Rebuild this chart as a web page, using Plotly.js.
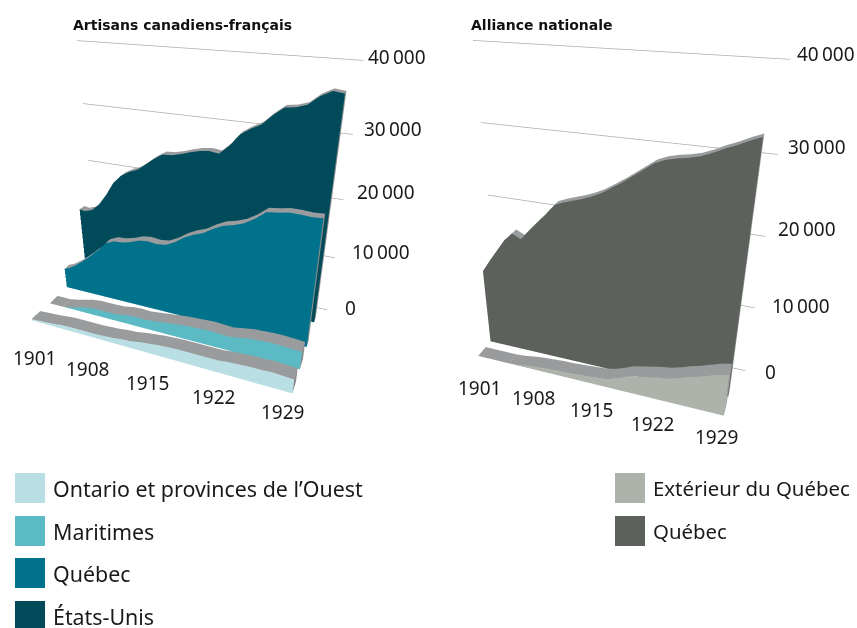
<!DOCTYPE html><html><head><script src="https://cdn.plot.ly/plotly-3.0.1.min.js"></script></head><body style="margin:0"><div id="c" style="width:857px;height:628px"></div><script>
var years=[];for(var yr=1901;yr<=1929;yr++)years.push(yr);
var etatsUnis=[12400,12200,12700,14100,16100,18500,20000,20900,21500,22600,23800,24700,24800,25200,25700,26100,26300,26100,27500,29400,30400,31200,32700,33900,34100,34600,35900,36700,36500];
var quebecA=[3600,4200,5200,6400,7700,9100,10700,11400,11500,11900,12500,12700,12500,12700,13500,14600,15400,16000,17000,17800,18200,18800,19800,21100,21300,21600,21600,21500,21600];
var maritimes=[0,0,0,300,700,1100,1300,1300,1300,1400,1700,1800,1700,1900,2100,2300,2500,2600,2700,2800,2700,2600,2900,3200,3300,3400,3400,3300,3200];
var ontarioOuest=[200,300,400,500,700,800,800,800,800,900,1000,1200,1300,1600,1800,2000,2100,2200,2200,2200,2200,2200,2400,2500,2600,2600,2700,2600,2500];
var quebecB=[11600,13400,15100,16800,18000,17400,18800,20100,21400,22800,23300,23700,24100,24600,25200,26000,26800,27700,28600,29500,30000,30300,30500,30800,31300,31900,32400,33000,33500];
var exterieur=[0,0,0,0,0,100,300,500,600,700,800,800,900,1000,1100,1200,1500,2000,2600,2900,3200,3500,3700,4100,4600,5000,5500,6000,6300];
var gridValues=[0,10000,20000,30000,40000];
var yearLabels=['1901','1908','1915','1922','1929'];
var valueLabels=['0','10\u2009000','20\u2009000','30\u2009000','40\u2009000'];
var W=857,H=628;
var camL={cx:190,cy:220,H:440,Ay:.765,Az:1.882,E:[1.319,-2.914,1.567],C:[.193,-.103],ua:.041,v1:.301,v2:.614,v4:1.252,uT:1.033,uS:.011};
var camR={cx:600,cy:240,H:480,Ay:.205,Az:2.387,E:[1.202,-3.318,1.839],C:[.019,.008],ua:.040,v4:2.670,uT:1.043,uS:-.049};
function scene(c,dom){var A=[2*(c.uT-c.uS),c.Ay*c.v4,c.Az],sx=1-(c.uT+c.uS),sy=c.Ay*.5-c.Ay*c.v4/2;
 var ax={visible:false,showgrid:false,zeroline:false,showbackground:false,showspikes:false};
 return {domain:dom,aspectmode:'manual',aspectratio:{x:A[0],y:A[1],z:A[2]},
 camera:{projection:{type:'perspective'},eye:{x:c.E[0]+sx,y:c.E[1]+sy,z:c.E[2]},center:{x:c.C[0]+sx,y:c.C[1]+sy,z:0},up:{x:c.ua,y:0,z:1}},
 xaxis:Object.assign({range:[1901+28*c.uS,1901+28*c.uT]},ax),yaxis:Object.assign({range:[0,c.v4]},ax),zaxis:Object.assign({range:[0,40000]},ax),bgcolor:'rgba(0,0,0,0)'};}
var t=[];
function mesh(sc,xs,ys,zs,tris,col){t.push({type:'mesh3d',scene:sc,x:xs,y:ys,z:zs,i:tris.map(function(a){return a[0];}),j:tris.map(function(a){return a[1];}),k:tris.map(function(a){return a[2];}),vertexcolor:xs.map(function(){return col;}),lighting:{ambient:1,diffuse:0,specular:0,fresnel:0,roughness:1},hoverinfo:'skip',showlegend:false});}
function ribbon(sc,v,th,vals,col,capcol){
 var fx=[],fy=[],fz=[],ft=[],tx=[],ty=[],tz=[],tt=[];
 years.forEach(function(y,i){fx.push(y,y);fy.push(v,v);fz.push(0,vals[i]);tx.push(y,y);ty.push(v,v+th);tz.push(vals[i],vals[i]);
  if(i<28){var n=2*i;if(vals[i+1]>0)ft.push([n,n+2,n+3]);if(vals[i]>0)ft.push([n,n+3,n+1]);tt.push([n,n+2,n+3],[n,n+3,n+1]);}});
 mesh(sc,fx,fy,fz,ft,col);mesh(sc,tx,ty,tz,tt,'#9a9b9d');
 var zr=vals[28];mesh(sc,[1929,1929,1929,1929],[v,v+th,v+th,v],[0,0,zr,zr],[[0,1,2],[0,2,3]],capcol);}
function grid(sc,c){gridValues.forEach(function(g){t.push({type:'scatter3d',mode:'lines',scene:sc,x:[1901+28*c.uS,1901+28*c.uT],y:[c.v4,c.v4],z:[g,g],line:{color:'#adadad',width:1.5},hoverinfo:'skip',showlegend:false});});}
grid('scene',camL);
ribbon('scene',1,.09,etatsUnis,'#004a59','#8a8c8e');ribbon('scene',camL.v2,.09,quebecA,'#00728b','#8a8c8e');ribbon('scene',camL.v1,.14,maritimes,'#5cbac5','#8a8c8e');ribbon('scene',0,.14,ontarioOuest,'#b9dee4','#8a8c8e');
grid('scene2',camR);
ribbon('scene2',1,.35,quebecB,'#5c625b','#9a9b9d');ribbon('scene2',0,.6,exterieur,'#adb2ab','#9a9b9d');
function lbl(x,y,txt,sz,anc,col,fam){return {xref:'paper',yref:'paper',x:x/W,y:1-y/H,xanchor:anc||'center',yanchor:'middle',text:txt,showarrow:false,font:{family:fam||'Noto Sans',size:sz,color:col||'#1a1a1a'}};}
var ann=[lbl(71,25,'<b>Artisans canadiens-français</b>',14,'left','#111','DejaVu Sans'),lbl(469,25,'<b>Alliance nationale</b>',14,'left','#111','DejaVu Sans')];
[[34,358],[87,369],[147,383],[213,397],[282,412]].forEach(function(p,i){ann.push(lbl(p[0],p[1],yearLabels[i],19));});
[[480,388],[533,398],[591,410],[652,424],[716,437]].forEach(function(p,i){ann.push(lbl(p[0],p[1],yearLabels[i],19));});
[[350,308],[381,252],[386,192],[393,129],[397,57]].forEach(function(p,i){ann.push(lbl(p[0],p[1],valueLabels[i],19));});
[[770,372],[801,306],[807,229],[817,147],[826,54]].forEach(function(p,i){ann.push(lbl(p[0],p[1],valueLabels[i],19));});
var shapes=[];
function leg(x,y,col,txt,sz){shapes.push({type:'rect',xref:'paper',yref:'paper',x0:x/W,x1:(x+30)/W,y0:1-(y+30)/H,y1:1-y/H,fillcolor:col,line:{width:0}});ann.push(lbl(x+36,y+15,txt,sz,'left'));}
leg(15,473,'#b9dee4','Ontario et provinces de l’Ouest',21.4);leg(15,516,'#5cbac5','Maritimes',21.4);leg(15,558,'#00728b','Québec',21.4);leg(15,601,'#004a59','États-Unis',21.4);
leg(615,473,'#adb2ab','Extérieur du Québec',20.4);leg(615,516,'#5c625b','Québec',20.4);
var hwR=190;
Plotly.newPlot('c',t,{width:W,height:H,margin:{l:0,r:0,t:0,b:0},paper_bgcolor:'#fff',showlegend:false,annotations:ann,shapes:shapes,
 scene:scene(camL,{x:[0,2*camL.cx/W],y:[1-(camL.cy+camL.H/2)/H,1-(camL.cy-camL.H/2)/H]}),
 scene2:scene(camR,{x:[(camR.cx-hwR)/W,(camR.cx+hwR)/W],y:[1-(camR.cy+camR.H/2)/H,1-(camR.cy-camR.H/2)/H]})},{displayModeBar:false});
</script></body></html>
